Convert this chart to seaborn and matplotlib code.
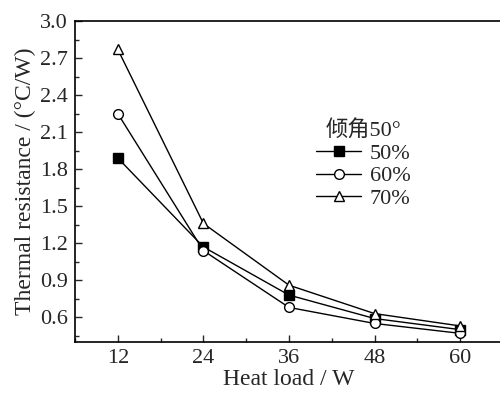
import matplotlib
matplotlib.use("Agg")
import matplotlib.pyplot as plt
import seaborn as sns
import pandas as pd
from matplotlib.ticker import MultipleLocator, FormatStrFormatter

sns.set_style("ticks")
plt.rcParams['font.family'] = ['Liberation Serif', 'Noto Sans CJK SC']

heat_load = [12, 24, 36, 48, 60]
r50 = [1.89, 1.17, 0.78, 0.59, 0.50]
r60 = [2.25, 1.14, 0.68, 0.55, 0.47]
r70 = [2.77, 1.36, 0.86, 0.63, 0.53]
labels = ["50%", "60%", "70%"]
yticks = [0.6, 0.9, 1.2, 1.5, 1.8, 2.1, 2.4, 2.7, 3.0]

fig = plt.figure(figsize=(5.0, 3.94), dpi=100)
ax = fig.add_axes([0.15, 0.132, 0.856, 0.8147])

styles = [("s", "black"), ("o", "white"), ("^", "white")]
for lab, vals, (mk, fc) in zip(labels, [r50, r60, r70], styles):
    df = pd.DataFrame({"x": heat_load, "y": vals})
    sns.lineplot(data=df, x="x", y="y", ax=ax, color="black", lw=1.0,
                 marker=mk, markersize=7, markerfacecolor=fc,
                 markeredgecolor="black", markeredgewidth=1.0, label=lab)

ax.set_xlim(6, 66)
ax.set_xticks(heat_load)
ax.xaxis.set_minor_locator(MultipleLocator(6))
ax.set_yticks(yticks)
ax.yaxis.set_minor_locator(MultipleLocator(0.15))
ax.set_ylim(0.4, 3.0)
ax.yaxis.set_major_formatter(FormatStrFormatter('%.1f'))
ax.tick_params(which="both", direction="in", top=False, right=False, labelsize=16, width=1)
ax.tick_params(which="major", length=5, pad=5)
ax.tick_params(which="minor", length=3)
for s in ax.spines.values():
    s.set_linewidth(1.2)
    s.set_color("black")

ax.set_xlabel("Heat load / W", fontsize=17, labelpad=1)
ax.set_ylabel("Thermal resistance / (°C/W)", fontsize=17, labelpad=3)

leg = ax.legend(title="倾角50°", loc="upper left", bbox_to_anchor=(0.543, 0.72),
                frameon=False, fontsize=16, title_fontsize=16,
                handlelength=2.0, handletextpad=0.4, labelspacing=0.1,
                borderaxespad=0)

fig.savefig("out.png", dpi=100)
